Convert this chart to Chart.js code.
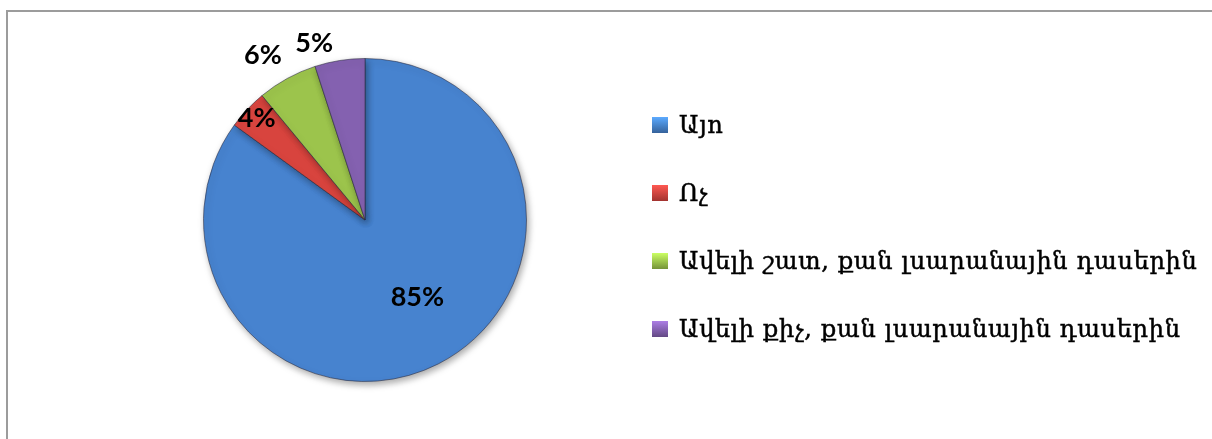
<!DOCTYPE html>
<html>
<head>
<meta charset="utf-8">
<script src="https://cdn.jsdelivr.net/npm/chart.js@4"></script>
<style>
  html, body { margin: 0; padding: 0; background: #ffffff; }
  #wrap { position: relative; width: 1212px; height: 439px; overflow: hidden; }
  #frame { position: absolute; left: 6px; top: 10px; width: 1300px; height: 600px; border: 2px solid #9c9c9c; box-sizing: border-box; }
  canvas { position: absolute; left: 0; top: 0; }
</style>
</head>
<body>
<div id="wrap">
  <div id="frame"></div>
  <canvas id="c" width="1212" height="439"></canvas>
</div>
<script>
const categories = ["Այո", "Ոչ", "Ավելի շատ, քան լսարանային դասերին", "Ավելի քիչ, քան լսարանային դասերին"];
const values = [85, 4, 6, 5];
const valueLabels = ["85%", "4%", "6%", "5%"];
const colors = ["#4783cf", "#d8443e", "#9cc44c", "#8461b0"];

// label placement style: radius factor and angle nudge (degrees) per slice
const labelRadius = [0.58, 0.92, 1.2, 1.14];
const labelNudge = [-7, 0, -3, -7];

const shadowPlugin = {
  id: 'shadow',
  beforeDatasetsDraw(chart) {
    const ctx = chart.ctx;
    ctx.save();
    ctx.shadowColor = 'rgba(0,0,0,0.35)';
    ctx.shadowBlur = 7;
    ctx.shadowOffsetX = 2;
    ctx.shadowOffsetY = 3;
  },
  afterDatasetsDraw(chart) {
    chart.ctx.restore();
  }
};

const labelPlugin = {
  id: 'labels',
  afterDraw(chart) {
    const ctx = chart.ctx;
    const meta = chart.getDatasetMeta(0);
    ctx.save();
    // slice labels
    ctx.font = 'bold 27px Lato, "Open Sans", sans-serif';
    ctx.fillStyle = '#000';
    ctx.textAlign = 'center';
    ctx.textBaseline = 'middle';
    meta.data.forEach((arc, i) => {
      const p = arc.getProps(['x', 'y', 'startAngle', 'endAngle', 'outerRadius'], true);
      const mid = (p.startAngle + p.endAngle) / 2 + labelNudge[i] * Math.PI / 180;
      const r = p.outerRadius * labelRadius[i];
      ctx.fillText(valueLabels[i], p.x + Math.cos(mid) * r, p.y + Math.sin(mid) * r);
    });
    // legend
    const boxX = 652, boxSize = 16, textX = 679;
    const firstY = 125, stepY = 68;
    ctx.textAlign = 'left';
    ctx.textBaseline = 'middle';
    categories.forEach((label, i) => {
      const cy = firstY + i * stepY;
      const g = ctx.createLinearGradient(0, cy - boxSize / 2, 0, cy + boxSize / 2);
      g.addColorStop(0, shade(colors[i], 1.3));
      g.addColorStop(1, shade(colors[i], 0.75));
      ctx.fillStyle = g;
      ctx.fillRect(boxX, cy - boxSize / 2, boxSize, boxSize);
      ctx.fillStyle = '#000';
      ctx.strokeStyle = '#000';
      ctx.lineWidth = 0.5;
      ctx.font = '24px "DejaVu Serif", serif';
      ctx.letterSpacing = '0.7px';
      ctx.fillText(label, textX, cy + 2);
      ctx.strokeText(label, textX, cy + 2);
      ctx.letterSpacing = '0px';
    });
    ctx.restore();
  }
};

function shade(hex, f) {
  const n = parseInt(hex.slice(1), 16);
  const r = Math.min(255, Math.round(((n >> 16) & 255) * f));
  const g = Math.min(255, Math.round(((n >> 8) & 255) * f));
  const b = Math.min(255, Math.round((n & 255) * f));
  return `rgb(${r},${g},${b})`;
}

new Chart(document.getElementById('c'), {
  type: 'pie',
  data: {
    labels: categories,
    datasets: [{
      data: values,
      backgroundColor: colors,
      borderColor: 'rgba(40,40,60,0.55)',
      borderWidth: 1
    }]
  },
  options: {
    responsive: false,
    animation: false,
    layout: { padding: { left: 203, right: 685, top: 58, bottom: 57 } },
    plugins: {
      legend: { display: false },
      tooltip: { enabled: false }
    }
  },
  plugins: [shadowPlugin, labelPlugin]
});
</script>
</body>
</html>
